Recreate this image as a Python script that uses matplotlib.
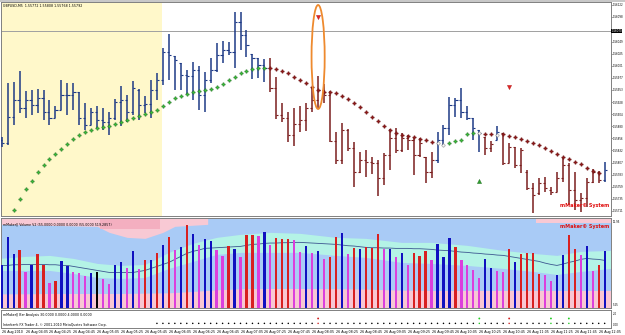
import numpy as np
import matplotlib
matplotlib.use("Agg")
import matplotlib.pyplot as plt
import matplotlib.transforms as mtransforms
from matplotlib.patches import Ellipse, Rectangle

# ---------------- data (prices in 1e-5 units) ----------------
symbol = "GBPUSD,M5"
open_pts = [155852, 155846, 155898, 155932, 155916, 155932, 155922, 155936, 155908, 155896,
            155912, 155942, 155942, 155948, 155896, 155882, 155908, 155892, 155888, 155896,
            155928, 155932, 155908, 155952, 155922, 155924, 155952, 155972, 156028, 156020,
            156006, 155982, 155980, 155992, 155942, 155972, 155992, 156022, 156032, 156028,
            156088, 156062, 156024, 156016, 156002, 155996, 155956, 155902, 155896, 155862,
            155884, 155892, 155916, 155932, 155952, 155942, 155850, 155812, 155872, 155836,
            155788, 155812, 155808, 155806, 155776, 155822, 155856, 155832, 155856, 155852,
            155822, 155818, 155788, 155812, 155852, 155876, 155922, 155932, 155908, 155896,
            155872, 155858, 155836, 155852, 155866, 155806, 155838, 155802, 155788, 155756,
            155746, 155766, 155752, 155748, 155776, 155802, 155752, 155732, 155736, 155768,
            155788, 155772]
high_pts = [155858, 155966, 155968, 155990, 155950, 155952, 155954, 155952, 155932, 155920,
            155972, 155966, 155966, 155948, 155926, 155916, 155920, 155916, 155908, 155934,
            155960, 155942, 155970, 155954, 155940, 155972, 155986, 156036, 156064, 156020,
            156006, 155992, 156008, 156000, 155988, 156016, 156046, 156050, 156048, 156108,
            156108, 156072, 156024, 156016, 156014, 156016, 155978, 155926, 155908, 155916,
            155920, 155926, 155958, 155980, 155964, 155950, 155868, 155886, 155874, 155848,
            155828, 155832, 155818, 155812, 155826, 155874, 155876, 155866, 155862, 155858,
            155856, 155818, 155828, 155868, 155882, 155938, 155936, 155956, 155920, 155896,
            155872, 155858, 155850, 155880, 155866, 155846, 155838, 155836, 155792, 155766,
            155776, 155778, 155758, 155788, 155818, 155806, 155788, 155746, 155776, 155794,
            155790, 155808]
low_pts = [155838, 155842, 155882, 155906, 155896, 155902, 155906, 155892, 155882, 155896,
           155912, 155902, 155912, 155882, 155872, 155882, 155876, 155872, 155862, 155892,
           155880, 155888, 155902, 155892, 155906, 155896, 155932, 155962, 155972, 155952,
           155952, 155942, 155932, 155912, 155908, 155966, 155988, 156006, 156022, 155996,
           156032, 156018, 155974, 155976, 155968, 155948, 155894, 155888, 155848, 155840,
           155868, 155870, 155908, 155916, 155926, 155848, 155804, 155804, 155830, 155758,
           155786, 155778, 155784, 155740, 155762, 155792, 155826, 155828, 155832, 155782,
           155818, 155766, 155776, 155806, 155842, 155862, 155898, 155896, 155892, 155852,
           155828, 155822, 155828, 155852, 155802, 155806, 155796, 155786, 155752, 155706,
           155742, 155748, 155742, 155748, 155768, 155722, 155712, 155708, 155718, 155766,
           155766, 155768]
close_pts = [155846, 155898, 155932, 155916, 155932, 155922, 155936, 155908, 155896, 155912,
             155942, 155942, 155948, 155896, 155882, 155908, 155892, 155888, 155896, 155928,
             155932, 155908, 155956, 155922, 155924, 155952, 155972, 156028, 156022, 156012,
             155982, 155980, 155992, 155942, 155972, 155992, 156022, 156032, 156028, 156088,
             156062, 156042, 156016, 156002, 155996, 155956, 155902, 155896, 155862, 155884,
             155892, 155916, 155932, 155952, 155942, 155850, 155812, 155872, 155836, 155788,
             155812, 155808, 155806, 155776, 155822, 155856, 155832, 155856, 155852, 155822,
             155846, 155788, 155812, 155852, 155876, 155922, 155932, 155908, 155896, 155876,
             155866, 155836, 155844, 155868, 155806, 155838, 155802, 155832, 155756, 155742,
             155766, 155756, 155748, 155776, 155802, 155752, 155732, 155736, 155768, 155788,
             155772, 155792]
bar_trend = "u" * 45 + "d" * 28 + "u" * 8 + "dd" + "u" + "d" * 17 + "u"

nan = float("nan")
sar_pts = [nan, nan,
           155712, 155734, 155754, 155770, 155788, 155802, 155814, 155824, 155834, 155844,
           155854, 155862, 155868, 155872, 155876, 155878, 155880, 155884, 155888, 155892,
           155896, 155900, 155904, 155908, 155912, 155920, 155928, 155936, 155940, 155944,
           155948, 155950, 155952, 155954, 155958, 155964, 155972, 155978, 155986, 155990,
           155994, 155996, 155996,
           155996, 155994, 155990, 155986, 155978, 155972, 155966, 155958, 155952, 155948,
           155948, 155946, 155940, 155934, 155926, 155918, 155908, 155898, 155890, 155880,
           155872, 155866, 155862, 155860, 155858, 155854, 155852, 155848,
           155846, 155842, 155846, 155850, 155852, 155864, 155866, 155866, 155864, 155864,
           155862, 155864, 155860, 155858, 155854, 155850, 155846, 155842, 155836, 155830,
           155824, 155818, 155814, 155808, 155804, 155796, 155790, 155786, nan]
sar_kind = "nn" + "g" * 43 + "r" * 28 + "ww" + "ggggg" + "w" + "rr" + "w" + "r" * 17 + "n"

signal_bars = [53, 85, 80]
signal_prices = [1.56098, 1.55958, 1.55770]
signal_dirs = ["sell", "sell", "buy"]

price_ticks = [1.56122, 1.56098, 1.56049, 1.56025, 1.56001, 1.55977, 1.55953, 1.55928,
               1.55904, 1.55880, 1.55856, 1.55832, 1.55807, 1.55783, 1.55759, 1.55735, 1.55711]
hline_price = 1.56070
session_start_bar, session_end_bar = -0.5, 26.9
highlight_bar = 53
highlight_top, highlight_bottom = 1.56122, 1.55914

volume = [128, 211, 159, 171, 106, 128, 161, 126, 73, 78,
          139, 123, 106, 102, 93, 103, 105, 86, 69, 128,
          136, 118, 168, 114, 141, 143, 163, 188, 210, 171,
          180, 246, 221, 186, 206, 198, 171, 154, 184, 175,
          151, 218, 218, 213, 226, 188, 208, 206, 206, 201,
          166, 183, 163, 169, 146, 151, 211, 223, 161, 179,
          176, 180, 178, 221, 176, 176, 151, 163, 128, 163,
          154, 169, 141, 190, 152, 208, 181, 143, 126, 113,
          88, 146, 118, 108, 106, 176, 136, 160, 162, 162,
          101, 96, 78, 96, 156, 216, 174, 156, 183, 109,
          128, 168]
volume_colors = ("bbbrmbrrmr" "bbmmmbkmmb" "bmbmrbrbrm" "brbmbbmmrb" "mrrmbmrrrm"
                 "mbmbmrrbmr" "brrrmbmbmr" "rrmbbbrmmm" "mbbmmrbrrr" "rmmbbrrmbm" "rb")
vol_line = [126, 126, 128, 128, 129, 129, 129, 129, 128, 128,
            126, 126, 123, 120, 117, 114, 111, 108, 105, 105,
            105, 105, 105, 108, 111, 117, 123, 129, 135, 144,
            153, 162, 168, 172, 177, 178, 179, 180, 181, 182,
            183, 186, 189, 190, 192, 193, 193, 194, 194, 195,
            195, 194, 193, 192, 191, 190, 189, 187, 185, 184,
            182, 180, 179, 179, 178, 178, 177, 177, 177, 176,
            176, 175, 174, 172, 171, 170, 168, 166, 165, 163,
            162, 160, 159, 157, 156, 153, 150, 147, 144, 141,
            138, 133, 129, 126, 130, 135, 139, 144, 147, 145,
            144, 141]
band_bars = [-0.5, 4, 8, 12, 16, 20, 24, 28, 32, 36, 40, 45, 50, 56, 61, 67, 72, 78, 84, 89, 93, 97, 102]
band_cyan_hi = [147, 153, 156, 147, 132, 126, 129, 165, 192, 210, 219, 225, 222, 210, 207, 195, 195, 186, 171, 162, 156, 168, 171]
band_cyan_lo = [111, 111, 111, 102, 90, 87, 90, 117, 138, 159, 165, 165, 165, 156, 150, 135, 132, 126, 117, 108, 99, 108, 117]
band_pink_lo = [41, 41, 42, 42, 42, 42, 43, 44, 48, 53, 56, 57, 57, 56, 55, 52, 51, 51, 51, 51, 51, 51, 51]
top_pink_bars = [-0.5, 16, 18, 21, 24, 27, 29, 34.5]
top_pink_lo = [249, 243, 225, 210, 207, 225, 243, 249]
top_pink2_bars = [89.5, 102]
top_pink2_lo = [252, 252]
dark_pink_bars = [16.5, 26.5]
dark_pink_lo = [234, 234]
VOL_MAX = 268

analysis_start = 26
analysis_events = {53: "r", 80: "g", 85: "r", 92: "g", 95: "g"}
analysis_base, analysis_signal = 0.35, 1.25

time_label_bars = list(range(0, 101, 4))
time_labels = ["26 Aug 2010", "26 Aug 04:05", "26 Aug 04:25", "26 Aug 04:45", "26 Aug 05:05",
               "26 Aug 05:25", "26 Aug 05:45", "26 Aug 06:05", "26 Aug 06:25", "26 Aug 06:45",
               "26 Aug 07:05", "26 Aug 07:25", "26 Aug 07:45", "26 Aug 08:05", "26 Aug 08:25",
               "26 Aug 08:45", "26 Aug 09:05", "26 Aug 09:25", "26 Aug 09:45", "26 Aug 10:05",
               "26 Aug 10:25", "26 Aug 10:45", "26 Aug 11:05", "26 Aug 11:25", "26 Aug 11:45",
               "26 Aug 12:05"]

# ---------------- figure ----------------
plt.rcParams["font.family"] = ["DejaVu Sans"]
W, H = 625, 335
fig = plt.figure(figsize=(W / 100, H / 100), dpi=100, facecolor="white")


def box(x0, y0, x1, y1):
    return [x0 / W, 1 - y1 / H, (x1 - x0) / W, (y1 - y0) / H]


XLIM = (-0.12, 102.06)
GRAY = "#808080"
BLUE = "#1E3A86"
RED = "#7A1E1E"
FS = 2.3
FSR = 1.9   # right-axis labels

fig.add_artist(Rectangle((0, 1 - 2 / H), 1, 2 / H, transform=fig.transFigure, color="#C8C8C8", lw=0))

ax = fig.add_axes(box(1, 2, 611, 216))
axv = fig.add_axes(box(1, 218, 611, 307.5))
axb = fig.add_axes(box(1, 309.5, 611, 328))
for a in (ax, axv, axb):
    a.set_xlim(*XLIM)
    a.set_xticks([])
    for s in a.spines.values():
        s.set_color(GRAY)
        s.set_linewidth(0.7)

# ---- main price panel ----
n = len(open_pts)
x = np.arange(n)
o = np.array(open_pts) / 1e5
h = np.array(high_pts) / 1e5
l = np.array(low_pts) / 1e5
c = np.array(close_pts) / 1e5
trend = np.array(list(bar_trend))
cols = np.where(trend == "u", BLUE, RED)

ax.set_ylim(1.55700, 1.56128)
ax.axvspan(session_start_bar, session_end_bar, color="#FFF8CA", lw=0, zorder=0)
ax.axhline(hline_price, color="#A0A0A0", lw=0.7, zorder=1)
ax.vlines(x, l, h, colors=cols, lw=1.1, zorder=3)
ax.hlines(o, x - 0.36, x, colors=cols, lw=0.8, zorder=3)
ax.hlines(c, x, x + 0.36, colors=cols, lw=0.8, zorder=3)

sar = np.array(sar_pts) / 1e5
kinds = np.array(list(sar_kind))
for kind, fc, ec in [("g", "#3CBF3C", "#1D6A1D"), ("r", "#8E1C1C", "#6A1010"), ("w", "white", "#7A7A7A")]:
    m = kinds == kind
    ax.plot(x[m], sar[m], ls="none", marker="P", ms=2.4, mfc=fc, mec=ec, mew=0.3, zorder=4)

for b, p, d in zip(signal_bars, signal_prices, signal_dirs):
    if d == "sell":
        ax.plot(b, p, marker="v", ms=3, color="#E02424", mec="#B01010", mew=0.3, zorder=5)
    else:
        ax.plot(b, p, marker="^", ms=3, color="#2E9E2E", mec="#1D6A1D", mew=0.3, zorder=5)

ax.add_patch(Ellipse((highlight_bar, (highlight_top + highlight_bottom) / 2), 2.2,
                     highlight_top - highlight_bottom, fill=False, ec="#EE8A2E", lw=1.3, zorder=6))

ax.yaxis.tick_right()
ax.set_yticks(price_ticks)
ax.set_yticklabels([f"{p:.5f}" for p in price_ticks])
ax.tick_params(axis="y", labelsize=FSR, length=1.0, width=0.5, pad=0.4, colors="black")
ax.text(1.0005, hline_price, f"{hline_price:.5f}", transform=ax.get_yaxis_transform(),
        fontsize=FSR, color="white", va="center", ha="left",
        bbox=dict(boxstyle="square,pad=0.15", fc="black", ec="none"))

title = f"{symbol}  {o[-1]:.5f} {h[-1]:.5f} {l[-1]:.5f} {c[-1]:.5f}"
ax.text(0.004, 0.99, title, transform=ax.transAxes, fontsize=FS, va="top", ha="left")
ax.text(0.997, 0.047, "mMaker\u00a9 System", transform=ax.transAxes, fontsize=3.5,
        fontweight="bold", color="#E01010", ha="right", va="center", zorder=7)

# ---- volume panel ----
axv.set_ylim(0, VOL_MAX)
axv.set_facecolor("#A9CBF6")
axv.fill_between(band_bars, 0, band_pink_lo, color="#F8C7D3", lw=0, zorder=1)
axv.fill_between(band_bars, band_cyan_lo, band_cyan_hi, color="#B4F3E6", lw=0, zorder=1)
axv.fill_between(top_pink_bars, top_pink_lo, VOL_MAX, color="#F8C9D4", lw=0, zorder=1)
axv.fill_between(top_pink2_bars, top_pink2_lo, VOL_MAX, color="#F8C9D4", lw=0, zorder=1)
axv.fill_between(dark_pink_bars, dark_pink_lo, VOL_MAX, color="#F4AFC0", lw=0, zorder=1)
axv.plot(x, vol_line, color="#3C5690", lw=0.6, zorder=2)
vmap = {"b": "#1010C0", "r": "#D82020", "m": "#DC3FDC", "k": "#000000"}
axv.bar(x, volume, width=0.38, color=[vmap[k] for k in volume_colors], lw=0, zorder=3)
axv.set_yticks([])
axv.text(0.004, 0.95, "mMaker|| Volume V2 (55.0000 0.0000 0.0000 (55.0000 519.2857)",
         transform=axv.transAxes, fontsize=FS, va="top", ha="left", zorder=5)
axv.text(0.997, 0.91, "mMaker\u00a9 System", transform=axv.transAxes, fontsize=3.5,
         fontweight="bold", color="#E01010", ha="right", va="center", zorder=7)
axv.text(1.003, 0.95, "12.95", transform=axv.transAxes, fontsize=FSR, va="center", ha="left")
axv.text(1.003, 0.03, "5.25", transform=axv.transAxes, fontsize=FSR, va="center", ha="left")

# ---- bar analysis panel ----
axb.set_ylim(-0.5, 2.9)
axb.set_yticks([])
ev_col = {"r": "#D02020", "g": "#22CC22"}
dots_x = np.arange(analysis_start, n)
base_cols = [ev_col.get(analysis_events.get(b, ""), "black") for b in dots_x]
axb.scatter(dots_x, np.full(len(dots_x), analysis_base), s=1.2, c=base_cols, lw=0, zorder=3)
ev_b = list(analysis_events.keys())
axb.scatter(ev_b, np.full(len(ev_b), analysis_signal), s=1.8,
            c=[ev_col[analysis_events[b]] for b in ev_b], lw=0, zorder=3)
axb.text(0.004, 0.72, "mMaker|| Bar Analysis 30.0000 0.0000 4.0000 0.0000",
         transform=axb.transAxes, fontsize=FS, va="center", ha="left")
axb.text(0.004, 0.17, "Interbank FX Trader 4, \u00a9 2001-2010 MetaQuotes Software Corp.",
         transform=axb.transAxes, fontsize=FS, va="center", ha="left")
axb.text(1.003, 2.0, "2.0", transform=axb.get_yaxis_transform(), fontsize=FSR, va="center", ha="left")
axb.text(1.003, 0.0, "0.00", transform=axb.get_yaxis_transform(), fontsize=FSR, va="center", ha="left")

# ---- time axis ----
tr = mtransforms.blended_transform_factory(axb.transData, fig.transFigure)
for b, lab in zip(time_label_bars, time_labels):
    fig.text(b, 1 - 332 / H, lab, transform=tr, fontsize=FS, va="center", ha="left")

fig.savefig("out.png", dpi=100, facecolor="white")
